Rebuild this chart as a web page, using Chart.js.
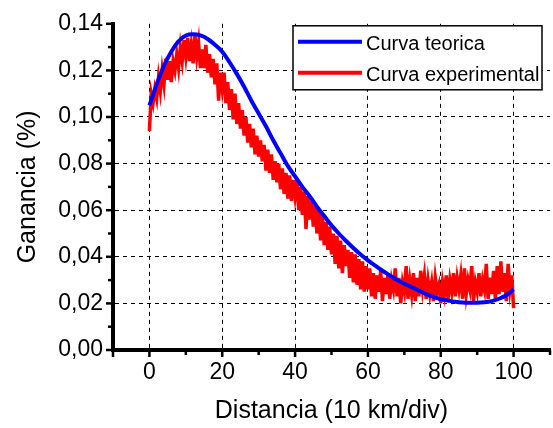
<!DOCTYPE html>
<html>
<head>
<meta charset="utf-8">
<script src="https://cdn.jsdelivr.net/npm/chart.js@4.4.0/dist/chart.umd.min.js"></script>
<style>
  html, body { margin: 0; padding: 0; background: #fff; }
  #wrap { width: 553px; height: 428px; }
</style>
</head>
<body>
<div id="wrap"><canvas id="mycanvas" width="553" height="428"></canvas></div>
<script>
// tick positions
var xTicks = [-10, 0, 10, 20, 30, 40, 50, 60, 70, 80, 90, 100, 110];
var yTicks = [0, 0.01, 0.02, 0.03, 0.04, 0.05, 0.06, 0.07, 0.08, 0.09, 0.10, 0.11, 0.12, 0.13, 0.14];

// Curva teorica, sampled every 2 units of distance
var teoricaX = [0, 2, 4, 6, 8, 10, 12, 14, 16, 18, 20, 22, 24, 26, 28, 30, 32, 34, 36, 38, 40,
  42, 44, 46, 48, 50, 52, 54, 56, 58, 60, 62, 64, 66, 68, 70, 72, 74, 76, 78, 80,
  82, 84, 86, 88, 90, 92, 94, 96, 98, 100];
var teoricaY = [0.105, 0.114, 0.122, 0.128, 0.1325, 0.135, 0.1355, 0.135, 0.1335, 0.131, 0.128,
  0.1235, 0.1185, 0.113, 0.107, 0.1015, 0.096, 0.090, 0.0845, 0.079, 0.0745,
  0.070, 0.066, 0.0615, 0.0575, 0.0535, 0.050, 0.0468, 0.0438, 0.041, 0.0385,
  0.0362, 0.034, 0.032, 0.030, 0.0285, 0.027, 0.0255, 0.024, 0.0228, 0.0218,
  0.0212, 0.0207, 0.0204, 0.0203, 0.0203, 0.0205, 0.021, 0.022, 0.0235, 0.026];

// Curva experimental, one reading every 0.5 units (0 .. 100)
var expStep = 0.5;
var experimentalY = [
  0.094, 0.110, 0.106, 0.112, 0.108, 0.117, 0.111, 0.120, 0.114, 0.125,
  0.116, 0.124, 0.115, 0.124, 0.120, 0.127, 0.121, 0.130, 0.124, 0.133,
  0.126, 0.134, 0.124, 0.131, 0.123, 0.135, 0.126, 0.132, 0.121, 0.129,
  0.121, 0.131, 0.119, 0.127, 0.117, 0.125, 0.114, 0.123, 0.107, 0.119,
  0.112, 0.119, 0.106, 0.115, 0.103, 0.112, 0.099, 0.110, 0.097, 0.106,
  0.095, 0.103, 0.092, 0.100, 0.089, 0.097, 0.087, 0.095, 0.084, 0.092,
  0.083, 0.090, 0.081, 0.088, 0.077, 0.086, 0.076, 0.084, 0.073, 0.081,
  0.072, 0.080, 0.069, 0.078, 0.067, 0.076, 0.065, 0.075, 0.064, 0.073,
  0.066, 0.073, 0.060, 0.070, 0.058, 0.068, 0.052, 0.066, 0.056, 0.064,
  0.053, 0.062, 0.050, 0.060, 0.047, 0.058, 0.045, 0.055, 0.043, 0.053,
  0.041, 0.050, 0.037, 0.049, 0.035, 0.047, 0.033, 0.045, 0.036, 0.043,
  0.031, 0.042, 0.029, 0.041, 0.028, 0.039, 0.026, 0.038, 0.025, 0.036,
  0.026, 0.035, 0.023, 0.033, 0.022, 0.032, 0.025, 0.034, 0.021, 0.031,
  0.024, 0.033, 0.022, 0.030, 0.026, 0.035, 0.023, 0.031, 0.020, 0.029,
  0.025, 0.036, 0.022, 0.030, 0.024, 0.033, 0.021, 0.031, 0.023, 0.034,
  0.026, 0.032, 0.022, 0.030, 0.024, 0.029, 0.021, 0.031, 0.025, 0.028,
  0.020, 0.029, 0.024, 0.032, 0.022, 0.030, 0.025, 0.033, 0.023, 0.031,
  0.026, 0.032, 0.022, 0.035, 0.024, 0.030, 0.026, 0.036, 0.021, 0.029,
  0.025, 0.033, 0.023, 0.030, 0.026, 0.037, 0.022, 0.031, 0.024, 0.034,
  0.022, 0.036, 0.024, 0.038, 0.025, 0.033, 0.021, 0.037, 0.026, 0.032,
  0.018
];

var teoricaPts = [];
for (var i in teoricaX) {
  teoricaPts.push({x: teoricaX[i], y: teoricaY[i]});
}
var expPts = [];
for (var j = 0; j < experimentalY.length; j++) {
  expPts.push({x: j * expStep, y: experimentalY[j]});
}

var FONT = "'Liberation Sans', Arial, sans-serif";

function isMajorX(v) { return v >= 0 && v <= 100 && v % 20 === 0; }
function isMajorY(v) { return Math.round(v * 100) % 2 === 0; }

// tick marks pointing out of the axes + legend box inside the plot
var decor = {
  id: 'decor',
  afterDraw: function(chart) {
    var c = chart.ctx, a = chart.chartArea;
    var xs = chart.scales.x, ys = chart.scales.y;
    c.save();
    c.strokeStyle = '#000';
    c.lineWidth = 2.5;
    xs.ticks.forEach(function(t) {
      var px = xs.getPixelForValue(t.value);
      var len = isMajorX(t.value) || t.value === -10 ? 7 : 5;
      c.beginPath(); c.moveTo(px, a.bottom); c.lineTo(px, a.bottom + len); c.stroke();
    });
    ys.ticks.forEach(function(t) {
      var py = ys.getPixelForValue(t.value);
      var len = isMajorY(t.value) ? 7 : 5;
      c.beginPath(); c.moveTo(a.left, py); c.lineTo(a.left - len, py); c.stroke();
    });

    // legend
    var bx = a.right - 257, by = a.top + 2, bw = 249, bh = 64;
    c.fillStyle = '#fff';
    c.fillRect(bx, by, bw, bh);
    c.lineWidth = 1.5;
    c.strokeRect(bx, by, bw, bh);
    c.font = '20px ' + FONT;
    c.textBaseline = 'middle';
    chart.data.datasets.forEach(function(ds, k) {
      var ly = by + 18 + k * 31;
      c.strokeStyle = ds.borderColor;
      c.lineWidth = 4;
      c.beginPath(); c.moveTo(bx + 5, ly - 2); c.lineTo(bx + 69, ly - 2); c.stroke();
      c.fillStyle = '#000';
      c.fillText(ds.label, bx + 73, ly + 1);
    });
    c.restore();
  }
};

var ctx = document.getElementById('mycanvas');
var chart = new Chart(ctx, {
  type: 'line',
  data: {
    datasets: [
      {
        label: 'Curva teorica',
        data: teoricaPts,
        borderColor: '#0000ff',
        borderWidth: 4,
        pointRadius: 0,
        cubicInterpolationMode: 'monotone',
        fill: false
      },
      {
        label: 'Curva experimental',
        data: expPts,
        borderColor: '#ff0000',
        borderWidth: 3.5,
        pointRadius: 0,
        tension: 0,
        fill: false
      }
    ]
  },
  options: {
    responsive: false,
    animation: false,
    events: [],
    layout: { padding: { top: 22, right: 3, left: 0, bottom: 0 } },
    plugins: {
      legend: { display: false },
      tooltip: { enabled: false }
    },
    scales: {
      x: {
        type: 'linear',
        min: -10,
        max: 110,
        afterBuildTicks: function(s) { s.ticks = xTicks.map(function(v) { return {value: v}; }); },
        afterFit: function(s) { s.height = 78; },
        ticks: {
          autoSkip: false,
          maxRotation: 0,
          padding: 0,
          color: '#000',
          font: { family: FONT, size: 23 },
          callback: function(v) { return isMajorX(v) ? String(v) : ''; }
        },
        grid: {
          drawTicks: true,
          tickLength: 9,
          tickColor: 'rgba(0,0,0,0)',
          lineWidth: 1,
          color: function(c) { return c.tick && isMajorX(c.tick.value) ? '#000' : 'rgba(0,0,0,0)'; }
        },
        border: { display: true, color: '#000', width: 4, dash: [4, 4] },
        title: {
          display: true,
          text: 'Distancia (10 km/div)',
          color: '#000',
          font: { family: FONT, size: 25 },
          padding: { top: 0, bottom: 2 }
        }
      },
      y: {
        type: 'linear',
        min: 0,
        max: 0.14,
        afterBuildTicks: function(s) { s.ticks = yTicks.map(function(v) { return {value: v}; }); },
        afterFit: function(s) { s.width = 113; },
        ticks: {
          autoSkip: false,
          padding: 10,
          color: '#000',
          font: { family: FONT, size: 23 },
          callback: function(v) { return isMajorY(v) ? v.toFixed(2).replace('.', ',') : ''; }
        },
        grid: {
          drawTicks: false,
          lineWidth: 1,
          color: function(c) {
            var v = c.tick ? c.tick.value : 0;
            return isMajorY(v) && v > 0.001 && v < 0.135 ? '#000' : 'rgba(0,0,0,0)';
          }
        },
        border: { display: true, color: '#000', width: 4, dash: [4, 4] },
        title: {
          display: true,
          text: 'Ganancia (%)',
          color: '#000',
          font: { family: FONT, size: 25 },
          padding: { top: 13, bottom: 0 }
        }
      }
    }
  },
  plugins: [decor]
});
</script>
</body>
</html>
